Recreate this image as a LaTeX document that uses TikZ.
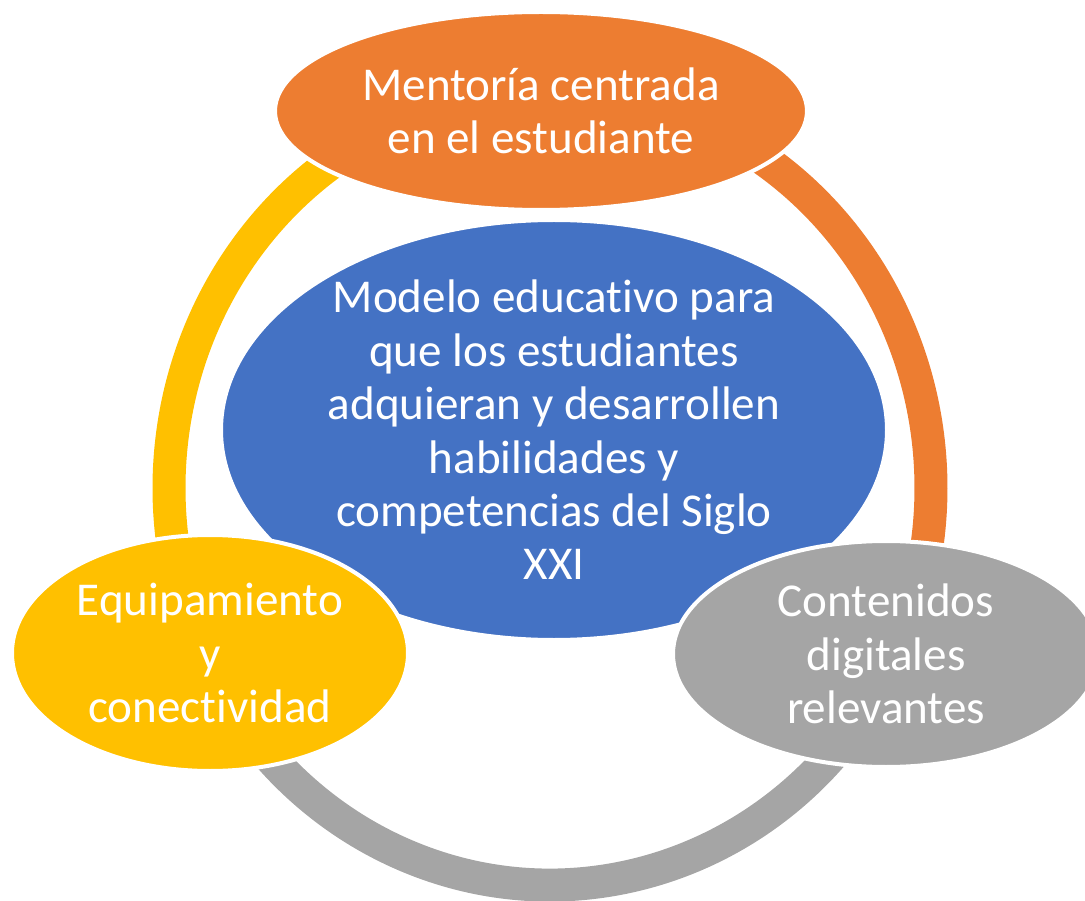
\documentclass[tikz,border=0pt]{standalone}
\usepackage{fontspec}
\setmainfont{Carlito}[Ligatures=NoCommon]
\usepackage{tikz}
\usetikzlibrary{shapes.geometric}

\definecolor{mentorOrange}{HTML}{ED7D31}
\definecolor{modelBlue}{HTML}{4472C4}
\definecolor{equipYellow}{HTML}{FFC000}
\definecolor{contentGray}{HTML}{A5A5A5}

\begin{document}
\begin{tikzpicture}[
  bubble/.style={ellipse, draw=white, line width=0.04cm, inner sep=0pt},
  bubbletext/.style={text=white, align=center, inner sep=0pt,
    font=\fontsize{13.4}{15.2}\selectfont},
  ringpart/.style={line width=0.33cm}
]
\useasboundingbox (0,0) rectangle (10.85,9);

% ring behind the bubbles
\draw[ringpart, mentorOrange] (5.5,4.12) ++(90:3.81 and 3.97)
  arc[start angle=90, end angle=-25, x radius=3.81, y radius=3.97];
\draw[ringpart, contentGray] (5.5,4.12) ++(-25:3.81 and 3.97)
  arc[start angle=-25, end angle=-155, x radius=3.81, y radius=3.97];
\draw[ringpart, equipYellow] (5.5,4.12) ++(205:3.81 and 3.97)
  arc[start angle=205, end angle=90, x radius=3.81, y radius=3.97];

% centre
\node[bubble, fill=modelBlue, minimum width=6.66cm, minimum height=4.2cm] (modelo) at (5.54,4.70) {};
\node[bubbletext] (modelo-txt) at (modelo) {Modelo educativo para\\que los estudiantes\\adquieran y desarrollen\\habilidades y\\competencias del Siglo\\XXI};

% top
\node[bubble, fill=mentorOrange, minimum width=5.32cm, minimum height=1.98cm] (mentoria) at (5.41,7.89) {};
\node[bubbletext] (mentoria-txt) at (mentoria) {Mentoría centrada\\en el estudiante};

% left
\node[bubble, fill=equipYellow, minimum width=3.96cm, minimum height=2.36cm] (equipo) at (2.10,2.47) {};
\node[bubbletext] (equipo-txt) at (equipo) {Equipamiento\\y\\conectividad};

% right
\node[bubble, fill=contentGray, minimum width=4.26cm, minimum height=2.26cm] (contenidos) at (8.86,2.46) {};
\node[bubbletext] (contenidos-txt) at (contenidos) {Contenidos\\digitales\\relevantes};
\end{tikzpicture}
\end{document}
